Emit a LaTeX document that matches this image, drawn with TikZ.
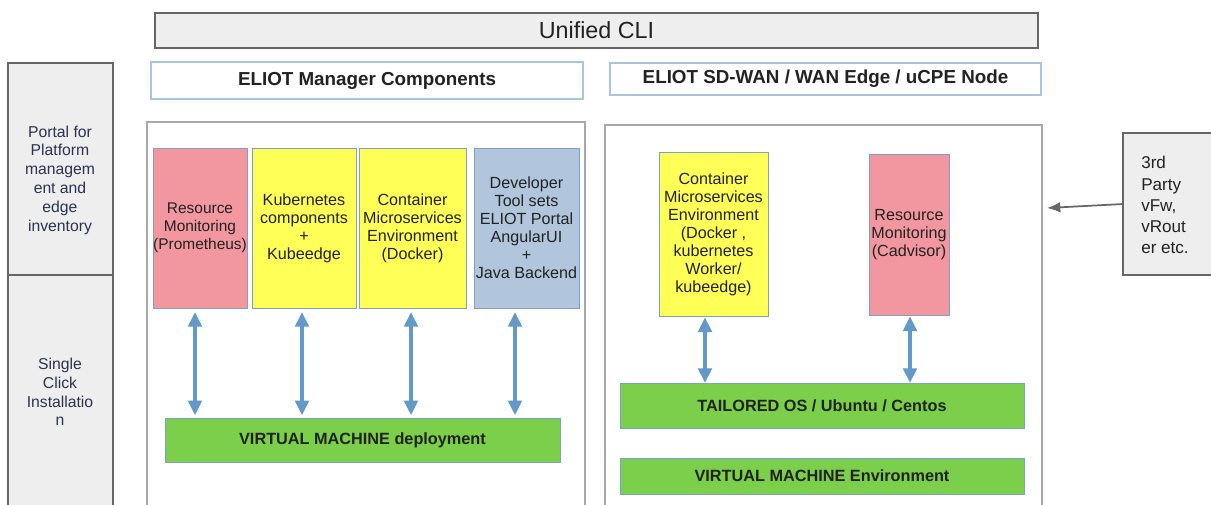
\documentclass[tikz,border=0pt]{standalone}
\usepackage{fontspec}
\setmainfont{Liberation Sans}
\usetikzlibrary{arrows.meta,calc}
\definecolor{boxgray}{HTML}{EEEEEE}
\definecolor{edgegray}{HTML}{666666}
\definecolor{contgray}{HTML}{A8A8A8}
\definecolor{titleblue}{HTML}{A9C4E2}
\definecolor{thinblue}{HTML}{7FA0C8}
\definecolor{pinkfill}{HTML}{F2969F}
\definecolor{yellowfill}{HTML}{FFFF57}
\definecolor{bluefill}{HTML}{B1C6DC}
\definecolor{greenfill}{HTML}{7CCF4A}
\definecolor{arrowblue}{HTML}{6399C9}
\definecolor{txt}{HTML}{222222}
\definecolor{sidetxt}{HTML}{2A3350}
\tikzset{
  every node/.style={text=txt},
  pxbox/.style n args={4}{minimum width={(#3-#1)*0.75pt}, minimum height={(#4-#2)*0.75pt},
     at={({(#1+#3)/2},{(#2+#4)/2})}},
  region/.style={inner sep=0pt, outer sep=0pt},
  clibox/.style={region, draw=edgegray, line width=1.2pt, fill=boxgray,
     font=\fontsize{17.5}{20}\selectfont},
  titlebox/.style={region, draw=titleblue, line width=0.8pt, fill=white,
     font=\fontsize{14.1}{16}\selectfont\bfseries},
  sidebox/.style={region, draw=edgegray, line width=1pt, fill=boxgray},
  container/.style={region, draw=contgray, line width=0.9pt, fill=white},
  comp/.style={region, draw=thinblue, line width=0.5pt, align=center,
     font=\fontsize{12.1}{13.5}\selectfont},
  greenbar/.style={region, draw=thinblue, line width=0.5pt, fill=greenfill,
     font=\fontsize{12.2}{14}\selectfont\bfseries},
  bodytext/.style={align=center, inner sep=0pt, font=\fontsize{11.8}{14.1}\selectfont, text=sidetxt},
  bigarrow/.style={draw=arrowblue, line width=3.6pt,
     {Triangle[length=11pt,width=10pt]}-{Triangle[length=11pt,width=10pt]}},
  grayarrow/.style={draw=edgegray, line width=1.3pt, -{Latex[length=10pt,width=8pt]}}
}
\begin{document}
\begin{tikzpicture}[x=0.75pt,y=-0.75pt]
\useasboundingbox (0,0) rectangle (1211,504);
% top
\node[clibox, pxbox={155}{13}{1038}{48}] (cli) {Unified CLI};
\node[titlebox, pxbox={151}{62}{583}{99}] (mgr) {ELIOT Manager Components};
\node[titlebox, pxbox={610}{63}{1041}{95}] (edge) {ELIOT SD-WAN / WAN Edge / uCPE Node};
% left side panel
\node[sidebox, pxbox={8}{63}{113}{275}] (portal) {};
\node[sidebox, pxbox={8}{275}{113}{520}] (single) {};
\node[bodytext] (portaltxt) at (60,180) {Portal for\\Platform\\managem\\ent and\\edge\\inventory};
\node[bodytext] (singletxt) at (60,392) {Single\\Click\\Installatio\\n};
% containers
\node[container, pxbox={147}{122}{585}{520}] (leftc) {};
\node[container, pxbox={605}{125}{1042}{520}] (rightc) {};
% left components
\node[comp, fill=pinkfill, pxbox={153}{148}{247}{308}, font=\fontsize{11.6}{13.5}\selectfont] (prom) {Resource\\Monitoring\\(Prometheus)};
\node[comp, fill=yellowfill, pxbox={252}{148}{356}{308}] (kube) {Kubernetes\\components\\+\\Kubeedge};
\node[comp, fill=yellowfill, pxbox={359}{148}{466}{308}] (cont) {Container\\Microservices\\Environment\\(Docker)};
\node[comp, fill=bluefill, pxbox={474}{148}{579}{308}] (dev) {Developer\\Tool sets\\ELIOT Portal\\AngularUI\\+\\Java Backend};
\node[greenbar, pxbox={165}{418}{560}{462}] (vm) {VIRTUAL MACHINE deployment};
% right components
\node[comp, fill=yellowfill, pxbox={659}{152}{768}{316}] (rcont) {Container\\Microservices\\Environment\\(Docker ,\\kubernetes\\Worker/\\kubeedge)};
\node[comp, fill=pinkfill, pxbox={869}{154}{949}{315}] (cadv) {Resource\\Monitoring\\(Cadvisor)};
\node[greenbar, pxbox={620}{383}{1024}{428}] (os) {TAILORED OS / Ubuntu / Centos};
\node[greenbar, pxbox={620}{458}{1024}{494}] (vme) {VIRTUAL MACHINE Environment};
% third party
\node[sidebox, pxbox={1123}{133}{1225}{275}] (third) {};
\node[anchor=west, align=left, inner sep=0pt, font=\fontsize{12.8}{15.8}\selectfont] (thirdtxt) at (1141,205) {3rd\\Party\\vFw,\\vRout\\er etc.};
\coordinate (thirdtip) at (1047,208);
% arrows
\draw[bigarrow] ([yshift=-3pt]195,0 |- prom.south) -- ([yshift=2pt]195,0 |- vm.north);
\draw[bigarrow] ([yshift=-3pt]302,0 |- kube.south) -- ([yshift=2pt]302,0 |- vm.north);
\draw[bigarrow] ([yshift=-3pt]411,0 |- cont.south) -- ([yshift=2pt]411,0 |- vm.north);
\draw[bigarrow] ([yshift=-3pt]515,0 |- dev.south) -- ([yshift=2pt]515,0 |- vm.north);
\draw[bigarrow] ([yshift=-1pt]705,0 |- rcont.south) -- ([yshift=0pt]705,0 |- os.north);
\draw[bigarrow] ([yshift=-1pt]910,0 |- cadv.south) -- ([yshift=0pt]910,0 |- os.north);
\draw[grayarrow] (third.west) -- (thirdtip);
\end{tikzpicture}
\end{document}
